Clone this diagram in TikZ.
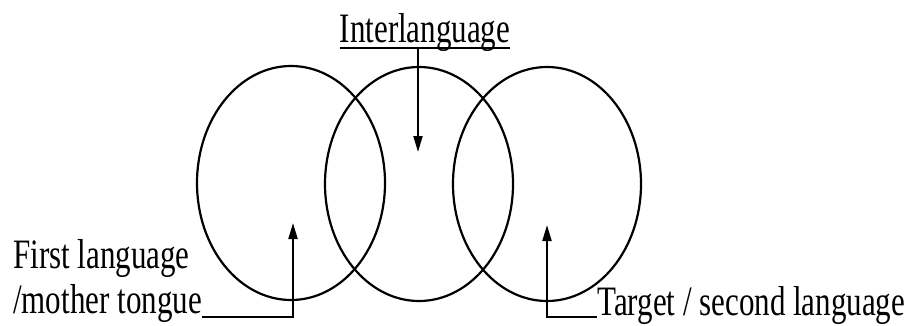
\documentclass[tikz,border=0pt]{standalone}
\usepackage{fontspec}
\setmainfont{Liberation Serif}
\usepackage{graphicx}
\usetikzlibrary{arrows.meta,positioning,calc}

\newcommand{\tallt}[1]{\scalebox{1}[1.35]{#1}}

\begin{document}
\begin{tikzpicture}[
  x=1pt, y=-1pt,
  lang/.style={draw=black, line width=2.2pt},
  lbl/.style={inner sep=0pt, font=\fontsize{31}{37}\selectfont},
  arr/.style={-{Triangle[length=16pt,width=9pt]}, black, line width=2pt},
  line/.style={black, line width=2pt},
]
  \useasboundingbox (0,0) rectangle (909,326);

  % the three languages
  \draw[lang] (291,183) ellipse [x radius=94, y radius=117];
  \draw[lang] (419,184) ellipse [x radius=94, y radius=117];
  \draw[lang] (547,184) ellipse [x radius=94, y radius=117];

  % labels
  \node[lbl, anchor=base] (inter) at (425,43) {\tallt{Interlanguage}};
  \node[lbl, anchor=base west] (first1) at (13,268) {\tallt{First language}};
  \node[lbl, anchor=base west] (first2) at (13,313) {\tallt{/mother tongue}};
  \node[lbl, anchor=base west] (target) at (597,315) {\tallt{Target / second language}};

  \coordinate (tipM) at (418,152);
  \coordinate (tipL) at (293,223);
  \coordinate (tipR) at (547,225);

  \draw[line, line width=1.5pt] ([yshift=-5pt]inter.base west) -- ([yshift=-5pt]inter.base east);
  \draw[arr] ([yshift=-5pt]inter.base -| tipM) -- (tipM);
  \draw[arr] ([yshift=-4pt]first2.base east) -| (tipL);
  \draw[arr] ([yshift=-2pt]target.base west) -| (tipR);
\end{tikzpicture}
\end{document}
